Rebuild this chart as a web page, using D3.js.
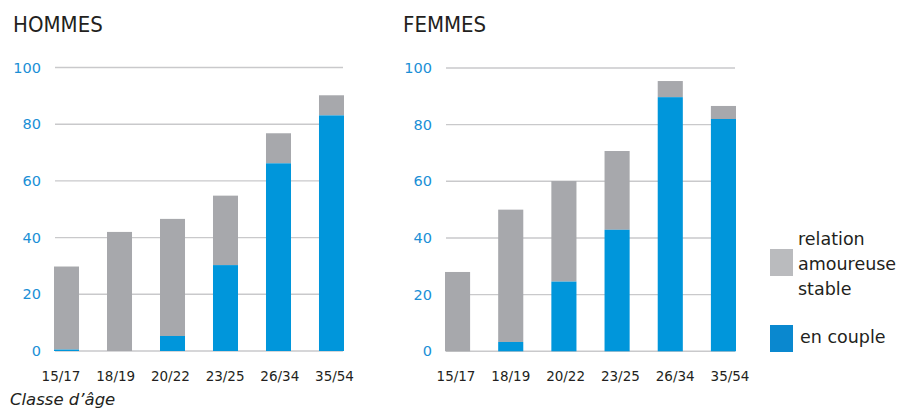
<!DOCTYPE html>
<html><head><meta charset="utf-8">
<script src="https://cdn.jsdelivr.net/npm/d3@7"></script>
<style>body{margin:0;background:#fff}svg{display:block}text{font-family:"DejaVu Sans",sans-serif}</style>
</head><body>
<svg id="c" width="903" height="410"></svg>
<script>
const categories = ["15/17","18/19","20/22","23/25","26/34","35/54"];
const hommesCouple = [0.5, 0, 5.3, 30.3, 66.2, 83.1];
const hommesTotal  = [29.8, 42, 46.6, 54.8, 76.8, 90.2];
const femmesCouple = [0, 3.3, 24.6, 42.9, 89.7, 82.0];
const femmesTotal  = [28, 50, 60.1, 70.7, 95.4, 86.6];
const yTicks = [0,20,40,60,80,100];
const legendItems = [{lines:["relation","amoureuse","stable"], color:"#babbbe"},{lines:["en couple"], color:"#0a88cf"}];

const svg = d3.select("#c");
const BLUE = "#0096db", GRAY = "#a7a8ac";

function panel(title, couple, total, x0, x1, l0, l1, yb, yt, tx, titleX){
  const g = svg.append("g");
  const x = d3.scaleBand().domain(categories).range([x0,x1]).paddingInner(0.528).paddingOuter(0);
  const xl = d3.scalePoint().domain(categories).range([l0,l1]);
  const y = d3.scaleLinear().domain([0,100]).range([yb,yt]);
  g.append("text").attr("x",titleX).attr("y",32).attr("font-size",22).attr("fill","#231f20")
    .style("font-family","'DejaVu Sans Condensed','DejaVu Sans',sans-serif").text(title);
  g.selectAll("line.grid").data(yTicks).join("line").attr("class","grid")
    .attr("x1",x0+1).attr("x2",x1-1).attr("y1",d=>y(d)).attr("y2",d=>y(d))
    .attr("stroke","#c9c9cb").attr("stroke-width",1.4);
  g.selectAll("text.yt").data(yTicks).join("text").attr("class","yt")
    .attr("x",tx).attr("y",d=>y(d)+5).attr("text-anchor","end").attr("font-size",14.5)
    .attr("fill","#1a8fd6").text(d=>d);
  const rows = categories.map((c,i)=>({c, couple:couple[i], total:total[i]}));
  g.selectAll("rect.gr").data(rows).join("rect").attr("class","gr")
    .attr("x",d=>x(d.c)).attr("width",x.bandwidth())
    .attr("y",d=>y(d.total)).attr("height",d=>y(d.couple)-y(d.total)).attr("fill",GRAY);
  g.selectAll("rect.bl").data(rows.filter(d=>d.couple>0)).join("rect").attr("class","bl")
    .attr("x",d=>x(d.c)).attr("width",x.bandwidth())
    .attr("y",d=>y(d.couple)).attr("height",d=>y(0)-y(d.couple)).attr("fill",BLUE);
  g.selectAll("text.xt").data(categories).join("text").attr("class","xt")
    .attr("x",d=>xl(d)).attr("y",381).attr("text-anchor","middle")
    .attr("font-size",13.5).attr("fill","#231f20").text(d=>d);
}
panel("HOMMES", hommesCouple, hommesTotal, 54, 344, 61, 334.5, 351, 67.5, 41, 13);
panel("FEMMES", femmesCouple, femmesTotal, 445, 736, 456, 730, 351.3, 68, 432, 403);

svg.append("text").attr("x",10).attr("y",405).attr("font-size",16.5).attr("font-style","italic")
  .attr("fill","#231f20").text("Classe d’âge");

const lg = svg.append("g");
const lgY = [249, 325];
legendItems.forEach((it,i)=>{
  lg.append("rect").attr("x",770).attr("y",lgY[i]).attr("width",23).attr("height",27).attr("fill",it.color);
  const n = it.lines.length;
  it.lines.forEach((t,j)=>{
    lg.append("text").attr("x", n>1?798:800).attr("y", n>1 ? 245 + j*25 : 343)
      .attr("font-size",17.5).attr("fill","#231f20").text(t);
  });
});
</script>
</body></html>
